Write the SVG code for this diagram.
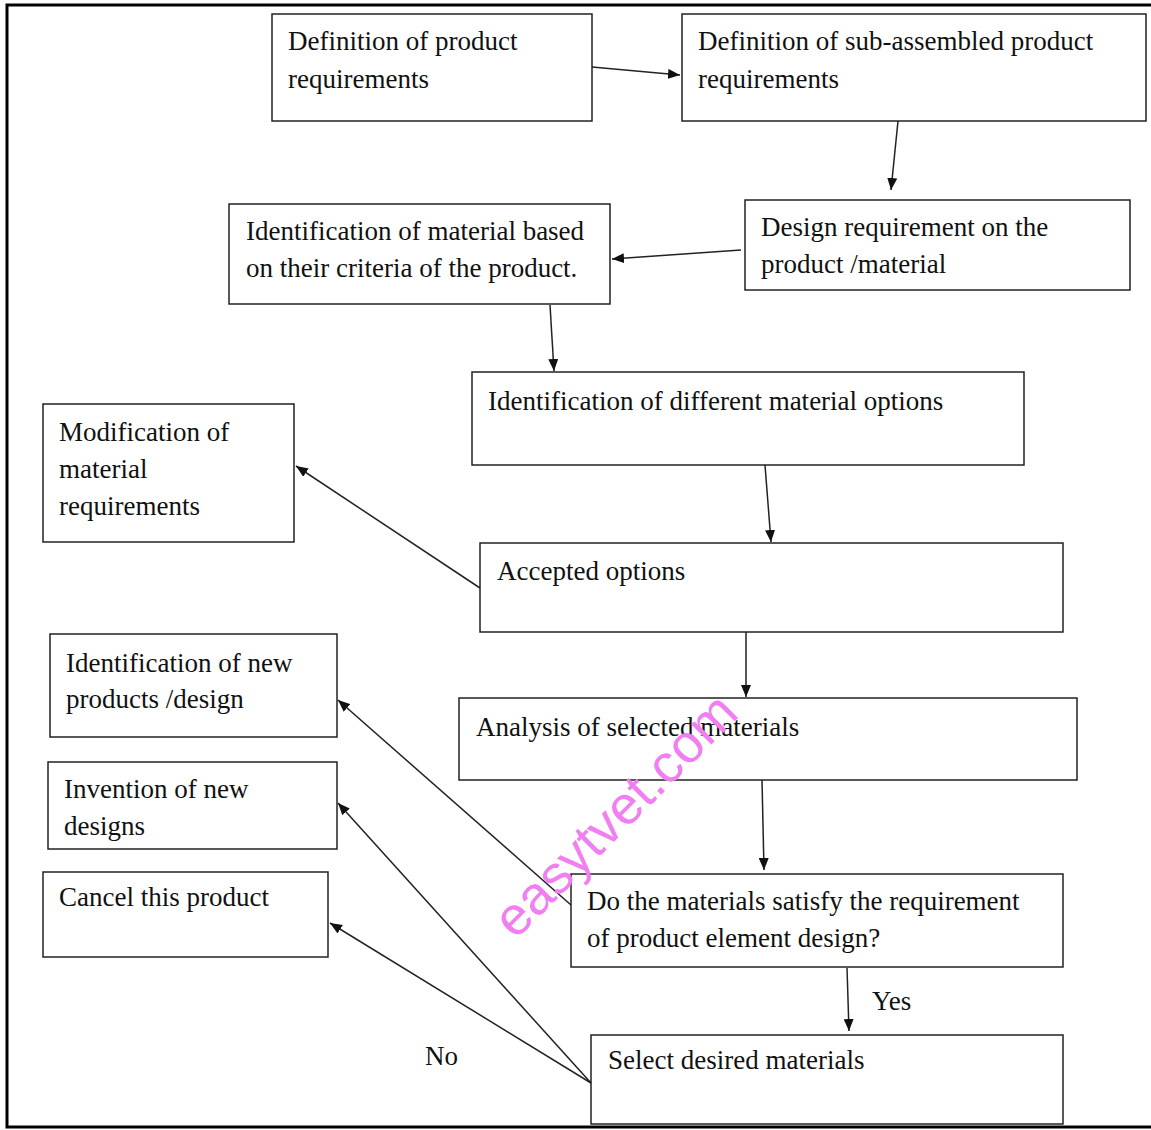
<svg xmlns="http://www.w3.org/2000/svg" width="1151" height="1130" viewBox="0 0 1151 1130">
<style>
.b{fill:#fff;stroke:#222;stroke-width:1.5}
.t{font-family:"Liberation Serif","Times New Roman",serif;font-size:27px;fill:#111}
.c{stroke:#222;stroke-width:1.5;fill:none;marker-end:url(#ah)}
</style>
<defs>
<marker id="ah" viewBox="0 0 12 10" refX="12" refY="5" markerWidth="12" markerHeight="10" markerUnits="userSpaceOnUse" orient="auto">
<path d="M0,0 L12,5 L0,10 Z" fill="#111"/>
</marker>
</defs>
<rect x="0" y="0" width="1151" height="1130" fill="#fff"/>
<rect x="7" y="5" width="1150" height="1122" fill="none" stroke="#000" stroke-width="3"/>
<g id="n1"><rect class="b" x="272" y="14" width="320" height="107"/><text class="t" x="288" y="50">Definition of product</text><text class="t" x="288" y="88">requirements</text></g>
<g id="n2"><rect class="b" x="682" y="14" width="464" height="107"/><text class="t" x="698" y="50">Definition of sub-assembled product</text><text class="t" x="698" y="88">requirements</text></g>
<g id="n3"><rect class="b" x="745" y="200" width="385" height="90"/><text class="t" x="761" y="236">Design requirement on the</text><text class="t" x="761" y="273">product /material</text></g>
<g id="n4"><rect class="b" x="229" y="204" width="381" height="100"/><text class="t" x="246" y="240">Identification of material based</text><text class="t" x="246" y="277">on their criteria of the product.</text></g>
<g id="n5"><rect class="b" x="472" y="372" width="552" height="93"/><text class="t" x="488" y="410">Identification of different material options</text></g>
<g id="n6"><rect class="b" x="43" y="404" width="251" height="138"/><text class="t" x="59" y="441">Modification of</text><text class="t" x="59" y="478">material</text><text class="t" x="59" y="515">requirements</text></g>
<g id="n7"><rect class="b" x="480" y="543" width="583" height="89"/><text class="t" x="497" y="580">Accepted options</text></g>
<g id="n8"><rect class="b" x="50" y="634" width="287" height="103"/><text class="t" x="66" y="672">Identification of new</text><text class="t" x="66" y="708">products /design</text></g>
<g id="n9"><rect class="b" x="459" y="698" width="618" height="82"/><text class="t" x="476" y="736">Analysis of selected materials</text></g>
<g id="n10"><rect class="b" x="48" y="762" width="289" height="87"/><text class="t" x="64" y="798">Invention of new</text><text class="t" x="64" y="835">designs</text></g>
<g id="n11"><rect class="b" x="43" y="872" width="285" height="85"/><text class="t" x="59" y="906">Cancel this product</text></g>
<g id="n12"><rect class="b" x="571" y="874" width="492" height="93"/><text class="t" x="587" y="910">Do the materials satisfy the requirement</text><text class="t" x="587" y="947">of product element design?</text></g>
<g id="n13"><rect class="b" x="591" y="1035" width="472" height="89"/><text class="t" x="608" y="1069">Select desired materials</text></g>
<g id="connectors">
<line class="c" x1="592" y1="67" x2="680" y2="75"/>
<line class="c" x1="898" y1="121" x2="891" y2="190"/>
<line class="c" x1="741" y1="250" x2="612" y2="259"/>
<line class="c" x1="550" y1="305" x2="554" y2="371"/>
<line class="c" x1="765" y1="465" x2="771" y2="542"/>
<line class="c" x1="480" y1="588" x2="296" y2="466"/>
<line class="c" x1="746" y1="632" x2="746" y2="697"/>
<line class="c" x1="762" y1="780" x2="764" y2="870"/>
<line class="c" x1="571" y1="905" x2="338" y2="700"/>
<line class="c" x1="591" y1="1083" x2="338" y2="803"/>
<line class="c" x1="591" y1="1083" x2="330" y2="923"/>
<line class="c" x1="847" y1="968" x2="849" y2="1031"/>
</g>
<text class="t" x="872" y="1010">Yes</text>
<text class="t" x="425" y="1065">No</text>
<text x="0" y="0" transform="translate(628,828) rotate(-45)" text-anchor="middle" font-family="Liberation Sans, Arial, sans-serif" font-size="54" fill="#f27ff2">easytvet.com</text>
</svg>
